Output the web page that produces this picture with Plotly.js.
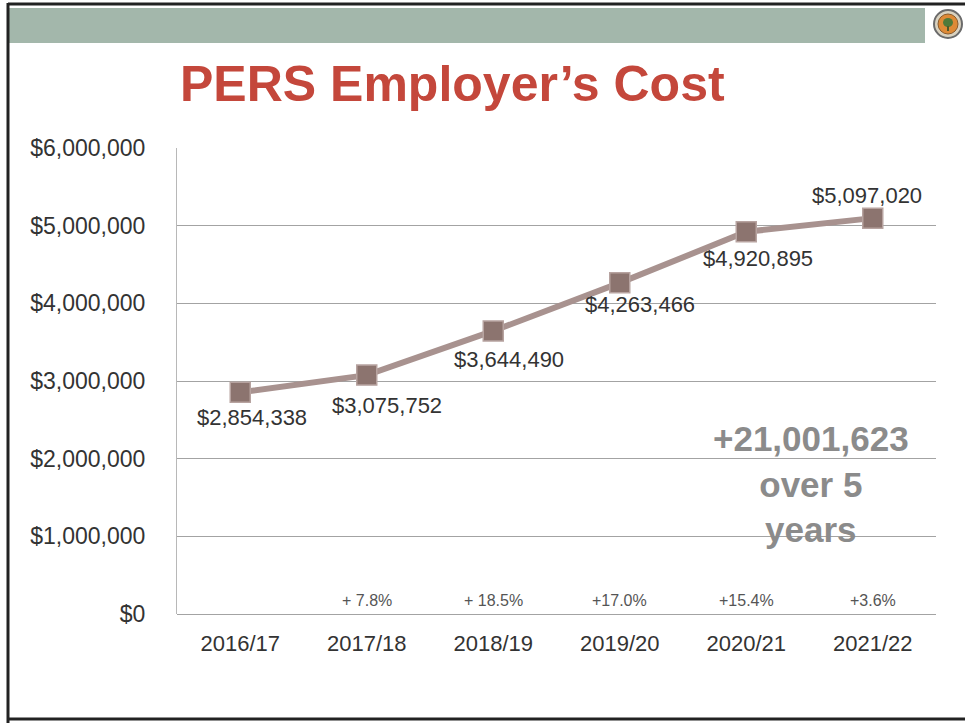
<!DOCTYPE html>
<html>
<head>
<meta charset="utf-8">
<script src="https://cdn.plot.ly/plotly-3.0.1.min.js"></script>
<style>
  html, body { margin: 0; padding: 0; background: #ffffff; }
  #chart { width: 965px; height: 723px; }
</style>
</head>
<body>
<div id="chart"></div>
<script>
// ---- Data ----
const years = ["2016/17", "2017/18", "2018/19", "2019/20", "2020/21", "2021/22"];
const costs = [2854338, 3075752, 3644490, 4263466, 4920895, 5097020];
const costLabels = ["$2,854,338", "$3,075,752", "$3,644,490", "$4,263,466", "$4,920,895", "$5,097,020"];
const pctChange = ["", "+ 7.8%", "+ 18.5%", "+17.0%", "+15.4%", "+3.6%"];
const totalLines = ["+21,001,623", "over 5", "years"];
const yTicks = [0, 1000000, 2000000, 3000000, 4000000, 5000000, 6000000];
const titleText = "PERS Employer\u2019s Cost";

// ---- Style / layout helpers ----
const W = 965, H = 723;
const px = x => x / W;
const py = y => 1 - y / H;
const FONT = "Liberation Sans, Arial, Helvetica, sans-serif";

const labelShift = [[12, -25], [20, -30], [16, -29], [20, -22], [12, -27], [-6, 23]];

const annotations = [];
annotations.push({
  xref: "paper", yref: "paper", x: px(452), y: py(84),
  xanchor: "center", yanchor: "middle", showarrow: false,
  text: "<b>" + titleText + "</b>",
  font: { family: FONT, size: 50, color: "#c4473b" }
});
costs.forEach((v, i) => {
  annotations.push({
    xref: "x", yref: "y", x: years[i], y: v,
    xshift: labelShift[i][0], yshift: labelShift[i][1],
    showarrow: false, text: costLabels[i],
    font: { family: FONT, size: 22, color: "#333333" }
  });
  if (pctChange[i]) {
    annotations.push({
      xref: "x", yref: "paper", x: years[i], y: py(600),
      yanchor: "middle", showarrow: false, text: pctChange[i],
      font: { family: FONT, size: 16, color: "#555555" }
    });
  }
});
annotations.push({
  xref: "paper", yref: "paper", x: px(811), y: py(484),
  xanchor: "center", yanchor: "middle", showarrow: false,
  text: totalLines.map(t => "<b>" + t + "</b>").join("<br>"),
  font: { family: FONT, size: 35, color: "#8b8b8b" }
});

const shapes = [
  // header band
  { type: "rect", xref: "paper", yref: "paper", x0: px(9), x1: px(925), y0: py(43), y1: py(8),
    fillcolor: "#a3b7ab", line: { width: 0 }, layer: "below" },
  // top frame line
  { type: "line", xref: "paper", yref: "paper", x0: px(8), x1: px(965), y0: py(4), y1: py(4),
    line: { color: "#222222", width: 3 } },
  // left frame line
  { type: "line", xref: "paper", yref: "paper", x0: px(8), x1: px(8), y0: py(3), y1: py(723),
    line: { color: "#222222", width: 3 } },
  // bottom frame line
  { type: "line", xref: "paper", yref: "paper", x0: px(8), x1: px(965), y0: py(719), y1: py(719),
    line: { color: "#222222", width: 3 } },
  // logo
  { type: "circle", xref: "paper", yref: "paper", x0: px(934), x1: px(962), y0: py(38), y1: py(10),
    fillcolor: "#d9d2c0", line: { color: "#6b6b6b", width: 2 } },
  { type: "circle", xref: "paper", yref: "paper", x0: px(938), x1: px(958), y0: py(34), y1: py(14),
    fillcolor: "#de8a36", line: { color: "#8a5a2a", width: 1 } },
  { type: "circle", xref: "paper", yref: "paper", x0: px(943), x1: px(953), y0: py(27), y1: py(18),
    fillcolor: "#4f7a3a", line: { width: 0 } },
  { type: "rect", xref: "paper", yref: "paper", x0: px(947), x1: px(949), y0: py(31), y1: py(26),
    fillcolor: "#4f5a2a", line: { width: 0 } }
];

const trace = {
  type: "scatter", mode: "lines+markers",
  x: years, y: costs,
  line: { color: "#a8928f", width: 6 },
  marker: { symbol: "square", size: 20, color: "#8c746f", line: { color: "#b7a3a0", width: 1.5 } },
  hoverinfo: "skip", showlegend: false, cliponaxis: false
};

const layout = {
  width: W, height: H,
  margin: { l: 0, r: 0, t: 0, b: 0 },
  paper_bgcolor: "#ffffff", plot_bgcolor: "#ffffff",
  showlegend: false,
  xaxis: {
    domain: [px(177), px(936)],
    type: "category", range: [-0.5, 5.5],
    showgrid: false, zeroline: false,
    showline: false, ticks: "",
    ticklabelstandoff: 14,
    tickfont: { family: FONT, size: 22, color: "#333333" },
    fixedrange: true
  },
  yaxis: {
    domain: [py(614), py(148)],
    range: [0, 6000000],
    tickvals: yTicks, tickformat: "$,.0f",
    showgrid: true, gridcolor: "#a3a3a3", gridwidth: 1,
    zeroline: true, zerolinecolor: "#a3a3a3", zerolinewidth: 1,
    showline: true, linecolor: "#b8b8b8", linewidth: 1,
    ticks: "", ticklabelstandoff: 26,
    tickfont: { family: FONT, size: 23, color: "#333333" },
    fixedrange: true
  },
  shapes: shapes,
  annotations: annotations
};

Plotly.newPlot("chart", [trace], layout, { staticPlot: true, displayModeBar: false });
</script>
</body>
</html>
